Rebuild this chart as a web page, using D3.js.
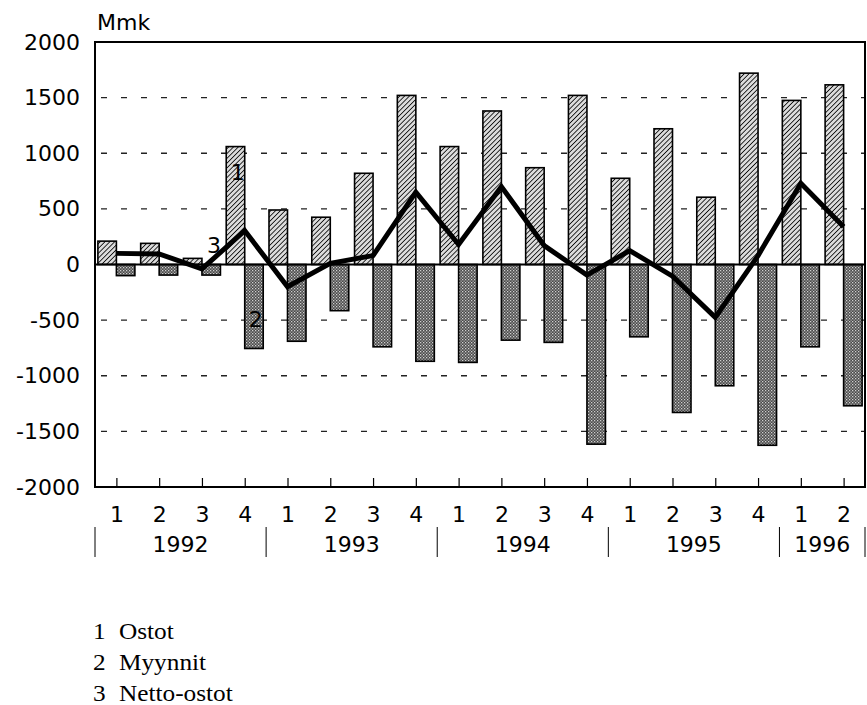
<!DOCTYPE html>
<html><head><meta charset="utf-8">
<script src="https://cdn.jsdelivr.net/npm/d3@7"></script>
<style>body{margin:0;background:#fff}</style>
</head><body><div id="c"></div>
<script>
const quarters = ["1","2","3","4","1","2","3","4","1","2","3","4","1","2","3","4","1","2"];
const years = [{label:"1992",n:4},{label:"1993",n:4},{label:"1994",n:4},{label:"1995",n:4},{label:"1996",n:2}];
const ostot = [210,190,55,1060,490,425,820,1520,1060,1380,870,1520,775,1220,605,1720,1475,1615];
const myynnit = [-100,-95,-95,-755,-690,-415,-740,-870,-880,-680,-700,-1615,-650,-1330,-1090,-1625,-740,-1270];
const netto = [100,95,-40,305,-200,10,80,650,180,700,170,-95,125,-105,-475,80,730,340];
const yTicks = [2000,1500,1000,500,0,-500,-1000,-1500,-2000];
const legend = [{n:"1",t:"Ostot"},{n:"2",t:"Myynnit"},{n:"3",t:"Netto-ostot"}];

const W=867,H=705, L=95, R=865, T=42, B=487;
const SANS="DejaVu Sans, Verdana, sans-serif";
const svg=d3.select("#c").append("svg").attr("width",W).attr("height",H);
const defs=svg.append("defs");
const hp=defs.append("pattern").attr("id","hatch").attr("patternUnits","userSpaceOnUse")
  .attr("width",3.4).attr("height",3.4).attr("patternTransform","rotate(45)");
hp.append("rect").attr("width",3.4).attr("height",3.4).attr("fill","#dcdcdc");
hp.append("line").attr("x1",0).attr("y1",0).attr("x2",0).attr("y2",3.4).attr("stroke","#000").attr("stroke-width",1.6);
const dp=defs.append("pattern").attr("id","dots").attr("patternUnits","userSpaceOnUse").attr("width",3).attr("height",3);
dp.append("rect").attr("width",3).attr("height",3).attr("fill","#4a4a4a");
dp.append("rect").attr("x",0).attr("y",0).attr("width",1.3).attr("height",1.3).attr("fill","#d0d0d0");
dp.append("rect").attr("x",1.5).attr("y",1.5).attr("width",1.3).attr("height",1.3).attr("fill","#b0b0b0");

const idx=d3.range(quarters.length);
const x=d3.scaleBand().domain(idx).range([L,R]).padding(0);
const y=d3.scaleLinear().domain([-2000,2000]).range([B,T]);
const bw=18.5;
const cx=i=>x(i)+x.bandwidth()/2;

// grid
svg.append("g").selectAll("line").data(yTicks.filter(v=>v!==0&&Math.abs(v)!==2000)).join("line")
  .attr("x1",L+6).attr("x2",R).attr("y1",d=>y(d)).attr("y2",d=>y(d))
  .attr("stroke","#222").attr("stroke-width",1.4).attr("stroke-dasharray","6,14");

// bars
svg.append("g").selectAll("rect").data(ostot).join("rect")
  .attr("x",(d,i)=>cx(i)-bw).attr("width",bw)
  .attr("y",d=>y(d)).attr("height",d=>y(0)-y(d))
  .attr("fill","url(#hatch)").attr("stroke","#000").attr("stroke-width",1.6);
svg.append("g").selectAll("rect").data(myynnit).join("rect")
  .attr("x",(d,i)=>cx(i)).attr("width",bw)
  .attr("y",y(0)).attr("height",d=>y(d)-y(0))
  .attr("fill","url(#dots)").attr("stroke","#000").attr("stroke-width",1.6);

// zero line
svg.append("line").attr("x1",L).attr("x2",R).attr("y1",y(0)).attr("y2",y(0)).attr("stroke","#000").attr("stroke-width",2);

// line
svg.append("path").datum(netto).attr("fill","none").attr("stroke","#000").attr("stroke-width",5)
  .attr("stroke-linejoin","miter")
  .attr("d",d3.line().x((d,i)=>cx(i)).y(d=>y(d)));

// frame
svg.append("rect").attr("x",L).attr("y",T).attr("width",R-L).attr("height",B-T)
  .attr("fill","none").attr("stroke","#000").attr("stroke-width",2);

// y axis
const yax=svg.append("g").attr("transform",`translate(${L},0)`)
  .call(d3.axisLeft(y).tickValues(yTicks).tickSize(0).tickPadding(15).tickFormat(d3.format("d")));
yax.select(".domain").remove();
yax.selectAll("text").attr("font-family",SANS).attr("font-size",22).attr("fill","#000").text(d=>String(d));

// x axis ticks
const xax=svg.append("g").attr("transform",`translate(0,${B})`)
  .call(d3.axisBottom(d3.scalePoint().domain(idx).range([cx(0),cx(idx.length-1)])).tickSize(-9).tickPadding(0).tickFormat(i=>quarters[i]));
xax.select(".domain").remove();
xax.selectAll("line").attr("stroke","#000").attr("stroke-width",1.2);
xax.selectAll("text").attr("font-family",SANS).attr("font-size",22).attr("fill","#000").attr("dy",null).attr("y",35);

// years
let start=0;
const yg=svg.append("g");
const seps=[0];
years.forEach(yr=>{
  const x0=x(start), x1=start+yr.n<idx.length? x(start+yr.n): R;
  yg.append("text").attr("x",(x0+x1)/2).attr("y",552).attr("text-anchor","middle")
    .attr("font-family",SANS).attr("font-size",22).text(yr.label);
  start+=yr.n; seps.push(start);
});
yg.selectAll("line").data(seps).join("line")
  .attr("x1",d=>d<idx.length?x(d):R).attr("x2",d=>d<idx.length?x(d):R)
  .attr("y1",527).attr("y2",557).attr("stroke","#000").attr("stroke-width",1);

// unit
svg.append("text").attr("x",97).attr("y",30).attr("font-family",SANS).attr("font-size",22).text("Mmk");

// series labels
const lab=[{t:"1",i:3,v:760,dx:-7},{t:"2",i:3,v:-560,dx:11},{t:"3",i:2,v:100,dx:12}];
svg.append("g").selectAll("text").data(lab).join("text")
  .attr("x",d=>cx(d.i)+d.dx).attr("y",d=>y(d.v)).attr("text-anchor","middle")
  .attr("font-family",SANS).attr("font-size",22).text(d=>d.t);

// legend
const lg=svg.append("g").attr("font-family","Liberation Serif, Times New Roman, serif").attr("font-size",23);
legend.forEach((d,k)=>{
  lg.append("text").attr("transform",`translate(93,${639+k*31}) scale(1.1,1)`).text(d.n);
  lg.append("text").attr("transform",`translate(119,${639+k*31}) scale(1.1,1)`).text(d.t);
});
</script></body></html>
